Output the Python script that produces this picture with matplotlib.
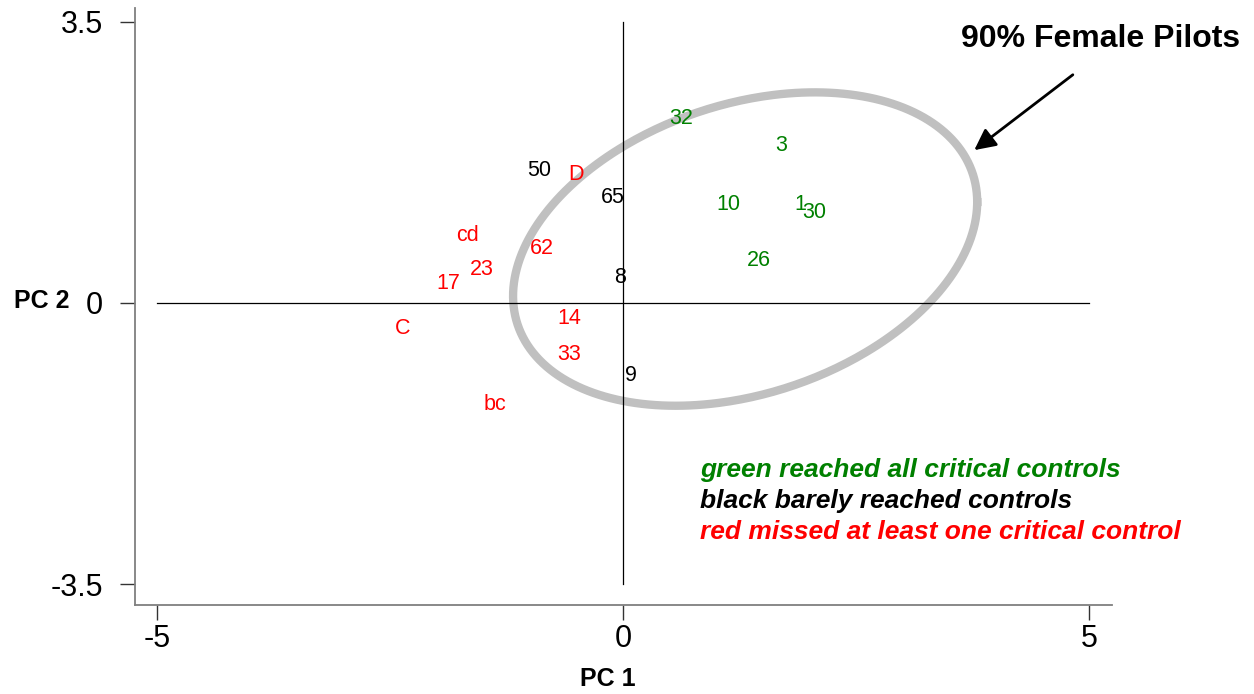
import numpy as np
import matplotlib
matplotlib.use('Agg')
import matplotlib.pyplot as plt

plt.rcParams['font.family'] = ['Liberation Sans', 'DejaVu Sans']

# PCA scores per pilot (PC 1, PC 2) grouped by outcome
green_labels = ['32', '3', '10', '1', '30', '26']
green_x = [0.62, 1.70, 1.13, 1.90, 2.05, 1.46]
green_y = [2.33, 1.99, 1.25, 1.25, 1.16, 0.56]

black_labels = ['50', '65', '8', '9']
black_x = [-0.90, -0.11, -0.03, 0.09]
black_y = [1.68, 1.34, 0.34, -0.87]

red_labels = ['D', 'cd', '62', '23', '17', 'C', '14', '33', 'bc']
red_x = [-0.50, -1.67, -0.87, -1.52, -1.87, -2.37, -0.58, -0.58, -1.37]
red_y = [1.63, 0.87, 0.71, 0.44, 0.27, -0.29, -0.17, -0.61, -1.23]

# 90% region of the female pilots
ell_cx, ell_cy = 1.31, 0.67
ell_sx, ell_sy, ell_rho = 2.49, 1.95, 0.30

xticks = [-5, 0, 5]
yticks = [-3.5, 0, 3.5]

GREEN = '#008000'
RED = '#ff0000'

fig = plt.figure(figsize=(12.54, 6.94), dpi=100)
ax = fig.add_axes([0.1077, 0.1282, 0.7791, 0.8603])
ax.set_xlim(-5.236, 5.247)
ax.set_ylim(-3.76, 3.67)

for s in ['top', 'right']:
    ax.spines[s].set_visible(False)
for s in ['left', 'bottom']:
    ax.spines[s].set_color('#7f7f7f')
    ax.spines[s].set_linewidth(1.3)

ax.set_xticks(xticks)
ax.set_xticklabels(['-5', '0', '5'])
ax.set_yticks(yticks)
ax.set_yticklabels(['-3.5', '0', '3.5'])
ax.tick_params(axis='both', direction='out', length=11, width=1.0,
               color='#333333', labelsize=22)
ax.tick_params(axis='x', pad=3)
ax.tick_params(axis='y', pad=12)

# crosshair through the origin
ax.plot([0, 0], [yticks[0], yticks[-1]], color='black', lw=0.9)
ax.plot([xticks[0], xticks[-1]], [0, 0], color='black', lw=0.9)

# ellipse from the covariance
t = np.linspace(0, 2 * np.pi, 400)
cov = np.array([[ell_sx ** 2, ell_rho * ell_sx * ell_sy],
                [ell_rho * ell_sx * ell_sy, ell_sy ** 2]])
L = np.linalg.cholesky(cov)
pts = L @ np.vstack([np.cos(t), np.sin(t)])
ax.plot(ell_cx + pts[0], ell_cy + pts[1], color='#c0c0c0', lw=6, zorder=1)

for labels, xs, ys, col in [(green_labels, green_x, green_y, GREEN),
                            (black_labels, black_x, black_y, 'black'),
                            (red_labels, red_x, red_y, RED)]:
    for lab, x, y in zip(labels, xs, ys):
        ax.text(x, y - 0.03, lab, color=col, fontsize=15.5, ha='center',
                va='center', zorder=3)

ax.annotate('', xy=(3.745, 1.88), xytext=(4.85, 2.86),
            arrowprops=dict(arrowstyle='-|>', color='black', lw=2,
                            mutation_scale=32),
            annotation_clip=False)
ax.text(5.12, 3.29, '90% Female Pilots', fontsize=23, fontweight='bold',
        ha='center', va='center', clip_on=False)

fig.text(608 / 1254, 1 - 679 / 694, 'PC 1', fontsize=18, fontweight='bold',
         ha='center', va='center')
fig.text(42 / 1254, 1 - 301 / 694, 'PC 2', fontsize=18, fontweight='bold',
         ha='center', va='center')

legend_lines = [('green reached all critical controls', GREEN),
                ('black barely reached controls', 'black'),
                ('red missed at least one critical control', RED)]
for i, (txt, col) in enumerate(legend_lines):
    fig.text(700 / 1254, 1 - (470 + 31 * i) / 694, txt, color=col,
             fontsize=19, fontweight='bold', fontstyle='italic',
             ha='left', va='center')

fig.savefig('out.png', dpi=100)
